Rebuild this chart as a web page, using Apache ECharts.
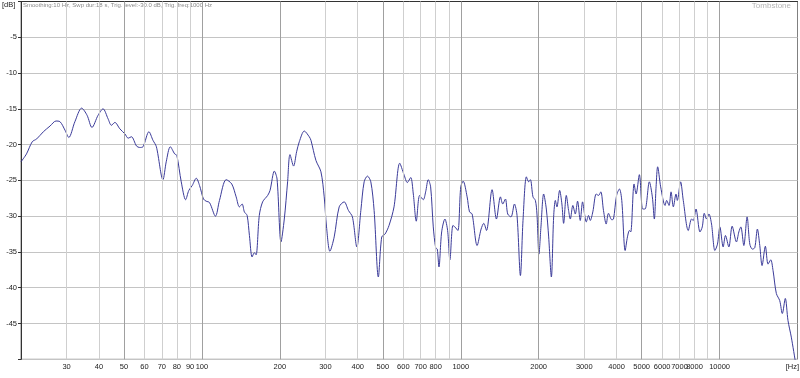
<!DOCTYPE html>
<html><head><meta charset="utf-8">
<script src="https://cdn.jsdelivr.net/npm/echarts@6/dist/echarts.min.js"></script>
<style>html,body{margin:0;padding:0;background:#fff}#c{width:800px;height:378px}</style>
</head><body><div id="c"></div>
<script>
const freqHz = [20,21.0,22.1,23.0,24.4,25.9,27.3,28.3,29.6,30.6,32.3,34.3,36.0,37.6,39.7,41.5,43.4,44.7,46.1,48.2,50.4,51.9,53.4,55.9,57.5,59.2,62.4,64.7,66.7,70.7,72.8,75.5,78.5,80,83.2,86.5,89.0,91.8,95.1,97.9,101.4,103.8,107.0,112.8,116.9,124.1,130.4,135.6,139.6,143.0,145.9,149.5,152.6,156.3,159.5,161.9,166.6,171.6,179.5,183.3,190.5,195.1,202.1,208.1,214.3,218.9,226.0,232.2,237.8,248.6,259.8,263.8,275.7,288.3,296.8,303.0,312.2,324.4,339.1,354.5,368.2,381.5,396.8,411.2,423.4,436.0,449.3,462.7,480.4,495.1,509.9,528.3,552.3,581.1,603.7,621.7,640.7,655.7,673.2,693.8,716.4,731.8,748.8,765.0,783.1,800,811.4,823.8,843.8,868.6,889.7,908.0,932.5,949.2,974.6,1000,1021.5,1058.4,1081.2,1106.5,1156.7,1198.4,1227.5,1257.2,1321.3,1373.9,1423.5,1452.8,1488.1,1518.8,1563.9,1612,1649.9,1700.3,1740,1793.3,1830.3,1858.1,1901.4,1942.3,1970,2005,2041,2091,2141,2186,2239,2285,2320,2353,2410,2459,2497,2557,2610,2650,2711,2770,2827,2895,2955,3008,3054,3117,3164,3238,3337,3406,3476,3560,3647,3722,3833,3892,4000,4104,4189,4317,4406,4485,4537,4674,4758,4899,5045,5153,5354,5498,5596,5684,5765,5921,6156,6244,6379,6493,6627,6786,6865,7069,7240,7569,7796,7916,8107,8400,8573,8727,8905,9096,9309,9592,9815,10027,10324,10537,10860,11183,11618,11868,12081,12406,12775,13084,13390,13678,13997,14299,14594,15028,15391,15765,16090,16568,17074,17473,17944,18380,18927,19600];
const levelDb = [-22.4,-21.3,-19.6,-19.2,-18.2,-17.4,-16.7,-16.8,-18.0,-19.0,-16.8,-14.9,-15.9,-17.6,-15.9,-15.0,-16.4,-17.3,-16.9,-17.8,-18.5,-19.1,-18.9,-20.2,-20.4,-20.3,-18.2,-19.4,-20.3,-24.9,-22.4,-20.3,-21.3,-21.5,-25.2,-27.7,-26.4,-25.7,-24.7,-25.7,-27.6,-27.9,-28.1,-30.0,-27.8,-24.9,-25.5,-27.3,-28.7,-28.3,-29.4,-29.9,-32.7,-35.7,-35.1,-35.4,-29.9,-28.0,-27.1,-26.4,-23.7,-24.8,-33.6,-30.4,-25.2,-21.4,-23.0,-21.0,-19.6,-18.1,-18.9,-19.4,-22.2,-23.8,-27.3,-31.5,-34.9,-32.9,-28.7,-28.0,-29.2,-30.1,-34.3,-29.2,-25.2,-24.4,-25.2,-29.2,-38.5,-32.9,-32.5,-31.3,-28.7,-22.6,-24.2,-25.3,-24.6,-26.9,-30.7,-27.1,-27.7,-26.6,-24.9,-25.9,-31.5,-34.4,-34.6,-37.1,-32.2,-30.4,-32.0,-36.1,-31.3,-31.5,-32.0,-25.9,-25.1,-27.3,-29.4,-29.7,-34.1,-31.8,-31.0,-32.0,-26.3,-30.4,-27.3,-28.3,-27.6,-29.7,-30.1,-28.3,-29.9,-38.3,-30.6,-24.5,-25.2,-24.9,-27.3,-27.8,-29.7,-35.3,-31.5,-26.9,-29.0,-32.9,-38.5,-30.1,-27.8,-28.7,-26.4,-28.3,-31.0,-27.1,-29.2,-30.4,-28.5,-29.7,-27.9,-30.6,-28.0,-29.7,-30.8,-29.9,-30.6,-29.4,-26.9,-27.1,-26.6,-29.2,-31.1,-29.6,-30.5,-30.4,-27.1,-26.2,-27.8,-34.8,-32.9,-32.0,-32.2,-25.5,-26.9,-24.2,-29.0,-29.0,-25.2,-27.3,-30.4,-25.9,-23.1,-25.9,-28.5,-27.8,-28.5,-26.6,-28.7,-26.9,-27.8,-25.2,-27.8,-32.0,-30.4,-30.6,-29.0,-32.2,-31.5,-29.6,-30.4,-29.7,-31.1,-34.8,-33.9,-31.5,-34.3,-32.7,-34.3,-31.4,-33.6,-32.2,-31.5,-34.1,-30.1,-33.9,-34.6,-34.4,-31.8,-34.1,-36.9,-34.2,-36.7,-36.1,-37.6,-40.8,-41.8,-43.6,-41.5,-44.6,-46.9,-50.2];
const xTickLabels = [30,40,50,60,70,80,90,100,200,300,400,500,600,700,800,1000,2000,3000,4000,5000,6000,7000,8000,10000];
const xTickMarks = [30,40,50,60,70,80,90,100,200,300,400,500,600,700,800,900,1000,2000,3000,4000,5000,6000,7000,8000,9000,10000];
const xGridLight = [30,40,60,70,80,90,300,400,600,700,800,900,3000,4000,6000,7000,8000,9000];
const xGridDark = [50,100,200,500,1000,2000,5000,10000];
const yTickLabels = [-5,-10,-15,-20,-25,-30,-35,-40,-45];
const headerText = 'Smoothing:10 Hz, Swp dur:18 s, Trig. level:-30.0 dB, Trig. freq:1000 Hz';

const chart = echarts.init(document.getElementById('c'), null, {renderer: 'canvas'});
const fontFam = 'Liberation Sans, Arial, sans-serif';
const gridLines = xGridLight.map(v => ({xAxis: v, lineStyle: {color: '#cfcfcf', width: 1, type: 'solid'}}))
  .concat(xGridDark.map(v => ({xAxis: v, lineStyle: {color: '#a0a0a0', width: 1, type: 'solid'}})));
chart.setOption({
  animation: false,
  backgroundColor: '#ffffff',
  grid: {left: 21, right: 2.5, top: 1.5, bottom: 18.7, show: true, borderColor: '#808080', borderWidth: 1},
  xAxis: {
    type: 'log', logBase: 10, min: 20, max: 20000,
    axisLine: {show: true, lineStyle: {color: '#333', width: 1}},
    axisTick: {show: true, length: 3, customValues: xTickMarks, lineStyle: {color: '#333'}},
    axisLabel: {show: true, customValues: xTickLabels, margin: 4, fontSize: 7.5, color: '#222', fontFamily: fontFam,
      formatter: v => String(Math.round(v))},
    splitLine: {show: false},
    minorTick: {show: false}
  },
  yAxis: {
    type: 'value', min: -50, max: 0, interval: 5,
    axisLine: {show: true, lineStyle: {color: '#333', width: 1}},
    axisTick: {show: true, length: 3, lineStyle: {color: '#333'}},
    axisLabel: {show: true, customValues: yTickLabels, margin: 4, fontSize: 7.5, color: '#222', fontFamily: fontFam},
    splitLine: {show: true, lineStyle: {color: '#c4c4c4', width: 1}}
  },
  series: [
    {type: 'line', data: [], z: 1, silent: true,
     markLine: {silent: true, symbol: ['none', 'none'], label: {show: false}, animation: false, data: gridLines}},
    {type: 'line', z: 3, data: freqHz.map((f, i) => [f, levelDb[i]]), showSymbol: false, smooth: 0.3,
     lineStyle: {color: '#3b3b99', width: 1}, clip: true}
  ],
  graphic: [
    {type: 'text', left: 2, top: 1, style: {text: '[dB]', fontSize: 7.5, fill: '#222', fontFamily: fontFam}},
    {type: 'text', left: 23, top: 2, style: {text: headerText, fontSize: 6, fill: '#8a8a8a', fontFamily: fontFam}},
    {type: 'text', right: 9, top: 2, style: {text: 'Tombstone', fontSize: 8, fill: '#b5b5b5', fontFamily: fontFam}},
    {type: 'text', right: 1, top: 363, style: {text: '[Hz]', fontSize: 7.5, fill: '#222', fontFamily: fontFam}}
  ]
});
</script></body></html>
